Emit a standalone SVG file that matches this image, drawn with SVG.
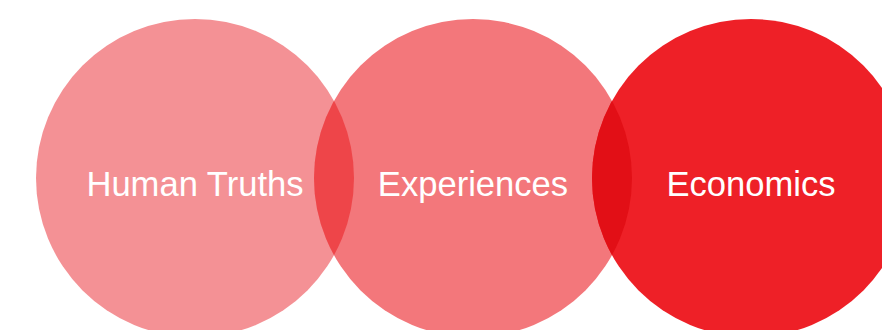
<svg xmlns="http://www.w3.org/2000/svg" width="882" height="330" viewBox="0 0 882 330">
<style>
.lbl{font-family:"Liberation Sans",Arial,sans-serif;font-size:34.6px;fill:#ffffff;text-anchor:middle}
</style>
<defs>
<clipPath id="c1"><circle cx="195" cy="178" r="159"/></clipPath>
<clipPath id="c2"><circle cx="473" cy="178" r="159"/></clipPath>
</defs>
<rect width="882" height="330" fill="#ffffff"/>
<g id="human-truths">
<circle cx="195" cy="178" r="159" fill="#F49195"/>
</g>
<g id="experiences">
<circle cx="473" cy="178" r="159" fill="#F3777B"/>
</g>
<g id="economics">
<circle cx="751" cy="178" r="159" fill="#EE2027"/>
</g>
<g id="overlaps">
<circle cx="473" cy="178" r="159" fill="#EE4549" clip-path="url(#c1)"/>
<circle cx="751" cy="178" r="159" fill="#E20F16" clip-path="url(#c2)"/>
</g>
<g id="labels">
<text class="lbl" x="195" y="196">Human Truths</text>
<text class="lbl" x="473" y="196">Experiences</text>
<text class="lbl" x="751" y="196">Economics</text>
</g>
</svg>
